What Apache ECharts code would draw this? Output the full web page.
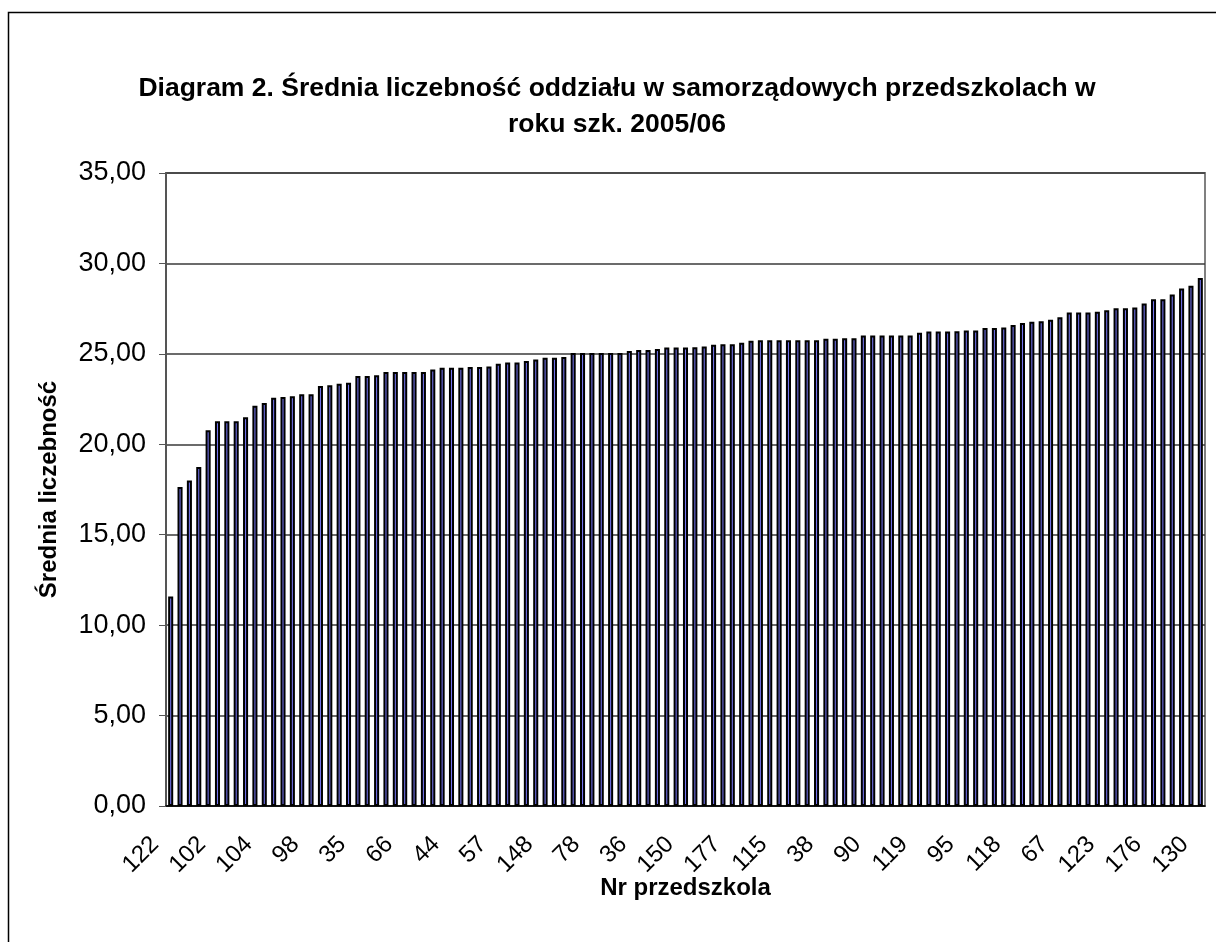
<!DOCTYPE html>
<html>
<head>
<meta charset="utf-8">
<title>Diagram 2</title>
<script src="https://cdn.jsdelivr.net/npm/echarts@6/dist/echarts.min.js"></script>
<style>
  html, body { margin: 0; padding: 0; background: #fff; }
  #chart { width: 1216px; height: 942px; }
</style>
</head>
<body>
<div id="chart"></div>
<script>
// labels visible on the axis (every 5th school)
const tickLabels = ['122', '102', '104', '98', '35', '66', '44', '57', '148', '78', '36', '150',
  '177', '115', '38', '90', '119', '95', '118', '67', '123', '176', '130']
const labelStep = 5

// average class size per preschool, sorted ascending
const values = [
  11.58, 17.64, 18.0, 18.74, 20.77, 21.27, 21.27, 21.27, 21.5, 22.13,
  22.28, 22.57, 22.61, 22.65, 22.77, 22.77, 23.22, 23.27, 23.35, 23.4,
  23.77, 23.77, 23.82, 24.0, 24.0, 24.0, 24.0, 24.0, 24.13, 24.23,
  24.23, 24.23, 24.28, 24.28, 24.3, 24.45, 24.52, 24.52, 24.61, 24.69,
  24.78, 24.78, 24.82, 25.05, 25.05, 25.05, 25.05, 25.05, 25.05, 25.16,
  25.22, 25.22, 25.27, 25.35, 25.35, 25.35, 25.37, 25.4, 25.51, 25.53,
  25.53, 25.62, 25.72, 25.75, 25.75, 25.75, 25.75, 25.75, 25.75, 25.75,
  25.83, 25.83, 25.86, 25.86, 26.01, 26.01, 26.01, 26.01, 26.01, 26.01,
  26.17, 26.23, 26.23, 26.23, 26.25, 26.29, 26.29, 26.43, 26.43, 26.46,
  26.59, 26.7, 26.78, 26.8, 26.89, 27.02, 27.28, 27.28, 27.28, 27.33,
  27.41, 27.52, 27.52, 27.56, 27.78, 28.02, 28.02, 28.28, 28.61, 28.76,
  29.2
]

const categories = values.map((v, i) => (i % labelStep === 0 ? tickLabels[i / labelStep] : ''))

const font = '"Liberation Sans", Arial, sans-serif'
const chart = echarts.init(document.getElementById('chart'))

chart.setOption({
  animation: false,
  backgroundColor: '#fff',
  title: {
    text: 'Diagram 2. Średnia liczebność oddziału w samorządowych przedszkolach w\nroku szk. 2005/06',
    left: 617,
    top: 71,
    padding: 0,
    textAlign: 'center',
    textStyle: { fontFamily: font, fontSize: 26.5, fontWeight: 'bold', color: '#000', lineHeight: 36 }
  },
  graphic: [{
    type: 'rect',
    shape: { x: 8.5, y: 12.5, width: 1400, height: 1000 },
    style: { fill: 'none', stroke: '#000', lineWidth: 1.5 },
    silent: true
  }],
  grid: {
    left: 166, top: 173, right: 11, bottom: 136,
    show: true, borderColor: '#808080', borderWidth: 2, backgroundColor: '#fff'
  },
  xAxis: {
    type: 'category',
    data: categories,
    name: 'Nr przedszkola',
    nameLocation: 'middle',
    nameGap: 70,
    nameMoveOverlap: false,
    nameTextStyle: { fontFamily: font, fontSize: 24, fontWeight: 'bold', color: '#000' },
    axisLine: { lineStyle: { color: '#000', width: 1.5 } },
    axisTick: { interval: 0, length: 7, lineStyle: { color: '#555', width: 1 } },
    axisLabel: {
      interval: 0, rotate: 45, margin: 19, padding: [0, 22, 0, 0],
      fontFamily: font, fontSize: 24, color: '#000'
    }
  },
  yAxis: {
    type: 'value',
    min: 0,
    max: 35,
    interval: 5,
    name: 'Średnia liczebność',
    nameLocation: 'middle',
    nameGap: 105,
    nameTextStyle: { fontFamily: font, fontSize: 24, fontWeight: 'bold', color: '#000' },
    axisLine: { show: true, lineStyle: { color: '#555', width: 2 } },
    axisTick: { show: true, length: 7, lineStyle: { color: '#555', width: 1 } },
    axisLabel: {
      margin: 20, fontFamily: font, fontSize: 27, color: '#000',
      formatter: v => v.toFixed(2).replace('.', ',')
    },
    splitLine: { lineStyle: { color: '#3a3a3a', width: 1.5 } }
  },
  series: [{
    type: 'bar',
    data: values,
    barWidth: '54%',
    itemStyle: { color: '#7474f0', borderColor: '#000', borderWidth: 2 }
  }]
})
</script>
</body>
</html>
